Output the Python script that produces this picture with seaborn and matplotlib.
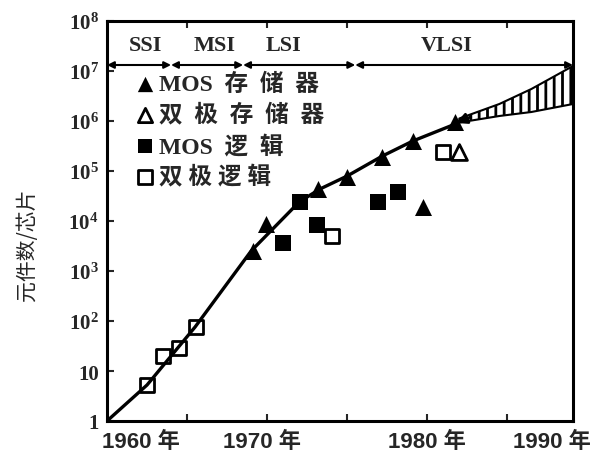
import numpy as np
import pandas as pd
import seaborn as sns
import matplotlib.pyplot as plt
from matplotlib import transforms

# values: year and log10(components per chip)
mos_mem_year = [1969.1, 1969.9, 1973.2, 1975.0, 1977.2, 1979.1, 1981.75, 1979.75]
mos_mem_log = [3.4, 3.94, 4.64, 4.88, 5.28, 5.6, 5.98, 4.28]
bip_mem_year = [1981.95]
bip_mem_log = [5.38]
mos_logic_year = [1971.0, 1972.05, 1973.1, 1976.9, 1978.2]
mos_logic_log = [3.56, 4.38, 3.92, 4.38, 4.58]
bip_logic_year = [1962.5, 1963.5, 1964.5, 1965.55, 1974.05, 1981.0]
bip_logic_log = [0.72, 1.3, 1.46, 1.88, 3.7, 5.38]

trend_year = [1960, 1962.5, 1965.5, 1969.0, 1972.0, 1973.3, 1975.0, 1977.2, 1979.1, 1981.6]
trend_log = [0.0, 0.72, 1.88, 3.4, 4.38, 4.64, 4.9, 5.3, 5.6, 5.92]

proj_year = [1982.0, 1984.5, 1986.5, 1989.1]
proj_hi = [6.05, 6.34, 6.64, 7.1]
proj_lo = [5.97, 6.1, 6.18, 6.34]

era_names = ["SSI", "MSI", "LSI", "VLSI"]
era_label_x = [1962.4, 1966.7, 1971.0, 1981.2]
era_bounds = [1960, 1964, 1968.5, 1975.5, 1989.1]

legend_labels = ["MOS  存  储  器", "双  极  存  储  器", "MOS  逻  辑", "双 极 逻 辑"]
x_label_pos = [1962.1, 1969.7, 1980.0, 1987.8]
x_label_text = ["1960 年", "1970 年", "1980 年", "1990 年"]
y_tick_text = ["1", "10"] + [f"$10^{{{i}}}$" for i in range(2, 9)]

sns.set_style("white")
serif_cjk = ["Liberation Serif", "Noto Sans CJK SC"]
sans_cjk = ["Liberation Sans", "Noto Sans CJK SC"]
plt.rcParams["font.family"] = serif_cjk
plt.rcParams["mathtext.fontset"] = "custom"
plt.rcParams["mathtext.rm"] = "Liberation Serif"
plt.rcParams["mathtext.bf"] = "Liberation Serif:bold"
plt.rcParams["mathtext.default"] = "bf"
plt.rcParams["hatch.linewidth"] = 2.0

fig = plt.figure(figsize=(6.11, 4.6), dpi=100)
ax = fig.add_axes([107 / 611, 1 - 422 / 460, 466 / 611, 400 / 460])

def pow10(v):
    return [10 ** t for t in v]

# trend curve
sns.lineplot(x=trend_year, y=pow10(trend_log), color="black", linewidth=2.4,
             ax=ax, legend=False, sort=False)

# projected wedge
ax.fill_between(proj_year, pow10(proj_lo), pow10(proj_hi), facecolor="white",
                edgecolor="black", hatch="||", linewidth=1.5)
ax.annotate("", xy=(1981.8, 10 ** 5.96), xytext=(1982.7, 10 ** 6.08),
            arrowprops=dict(arrowstyle="-|>", color="black", lw=2,
                            mutation_scale=16, shrinkA=0, shrinkB=0))

sns.scatterplot(x=mos_mem_year, y=pow10(mos_mem_log), marker="^", color="black",
                s=150, linewidth=0, ax=ax, label=legend_labels[0])
sns.scatterplot(x=bip_mem_year, y=pow10(bip_mem_log), marker="^", facecolor="white",
                edgecolor="black", s=130, linewidth=2, ax=ax, label=legend_labels[1])
sns.scatterplot(x=mos_logic_year, y=pow10(mos_logic_log), marker="s", color="black",
                s=120, linewidth=0, ax=ax, label=legend_labels[2])
sns.scatterplot(x=bip_logic_year, y=pow10(bip_logic_log), marker="s", facecolor="white",
                edgecolor="black", s=110, linewidth=2, ax=ax, label=legend_labels[3])

ax.set_yscale("log")
ax.set_xlim(era_bounds[0], era_bounds[-1])
ax.set_ylim(1, 1e8)

# era band
band_y = 10 ** 7.12
for a, b in zip(era_bounds[:-1], era_bounds[1:]):
    ax.annotate("", xy=(b, band_y), xytext=(a, band_y),
                arrowprops=dict(arrowstyle="<|-|>", color="black", lw=1.5,
                                mutation_scale=10, shrinkA=0, shrinkB=0))
for name, x in zip(era_names, era_label_x):
    ax.text(x, 10 ** 7.52, name, ha="center", va="center", fontsize=16,
            fontweight="bold", family="Liberation Serif")

# axes frame and ticks
for sp in ax.spines.values():
    sp.set_linewidth(2.2)
    sp.set_color("black")
ax.set_yticks([10 ** i for i in range(9)])
ax.set_yticklabels(y_tick_text)
ax.yaxis.set_minor_locator(plt.NullLocator())
ax.tick_params(axis="y", which="major", direction="in", length=5, width=1.5,
               labelsize=15, pad=6, left=True, right=False)
for lab in ax.get_yticklabels():
    lab.set_fontweight("bold")
ax.set_xticks([1965, 1970, 1975, 1980, 1985])
ax.set_xticklabels([])
ax.tick_params(axis="x", direction="in", length=5, width=1.5, top=True, bottom=True)

trans = transforms.blended_transform_factory(ax.transData, ax.transAxes)
for x, t in zip(x_label_pos, x_label_text):
    ax.text(x, -0.05, t, transform=trans, ha="center", va="center", fontsize=16,
            fontweight="bold", family=sans_cjk, clip_on=False)

fig.text(27 / 611, 1 - 245 / 460, "元件数/芯片", rotation=90, ha="center",
         va="center", fontsize=15, family=["Noto Sans CJK SC"])

ax.set_xlabel("")
ax.set_ylabel("")
ax.legend(loc="upper left", bbox_to_anchor=(0.035, 0.895), frameon=False,
          handletextpad=0.1, labelspacing=0.35, borderaxespad=0, handlelength=1.0,
          markerscale=0.9,
          prop=dict(family=serif_cjk, size=17, weight="bold"))

fig.savefig("out.png", dpi=100)
